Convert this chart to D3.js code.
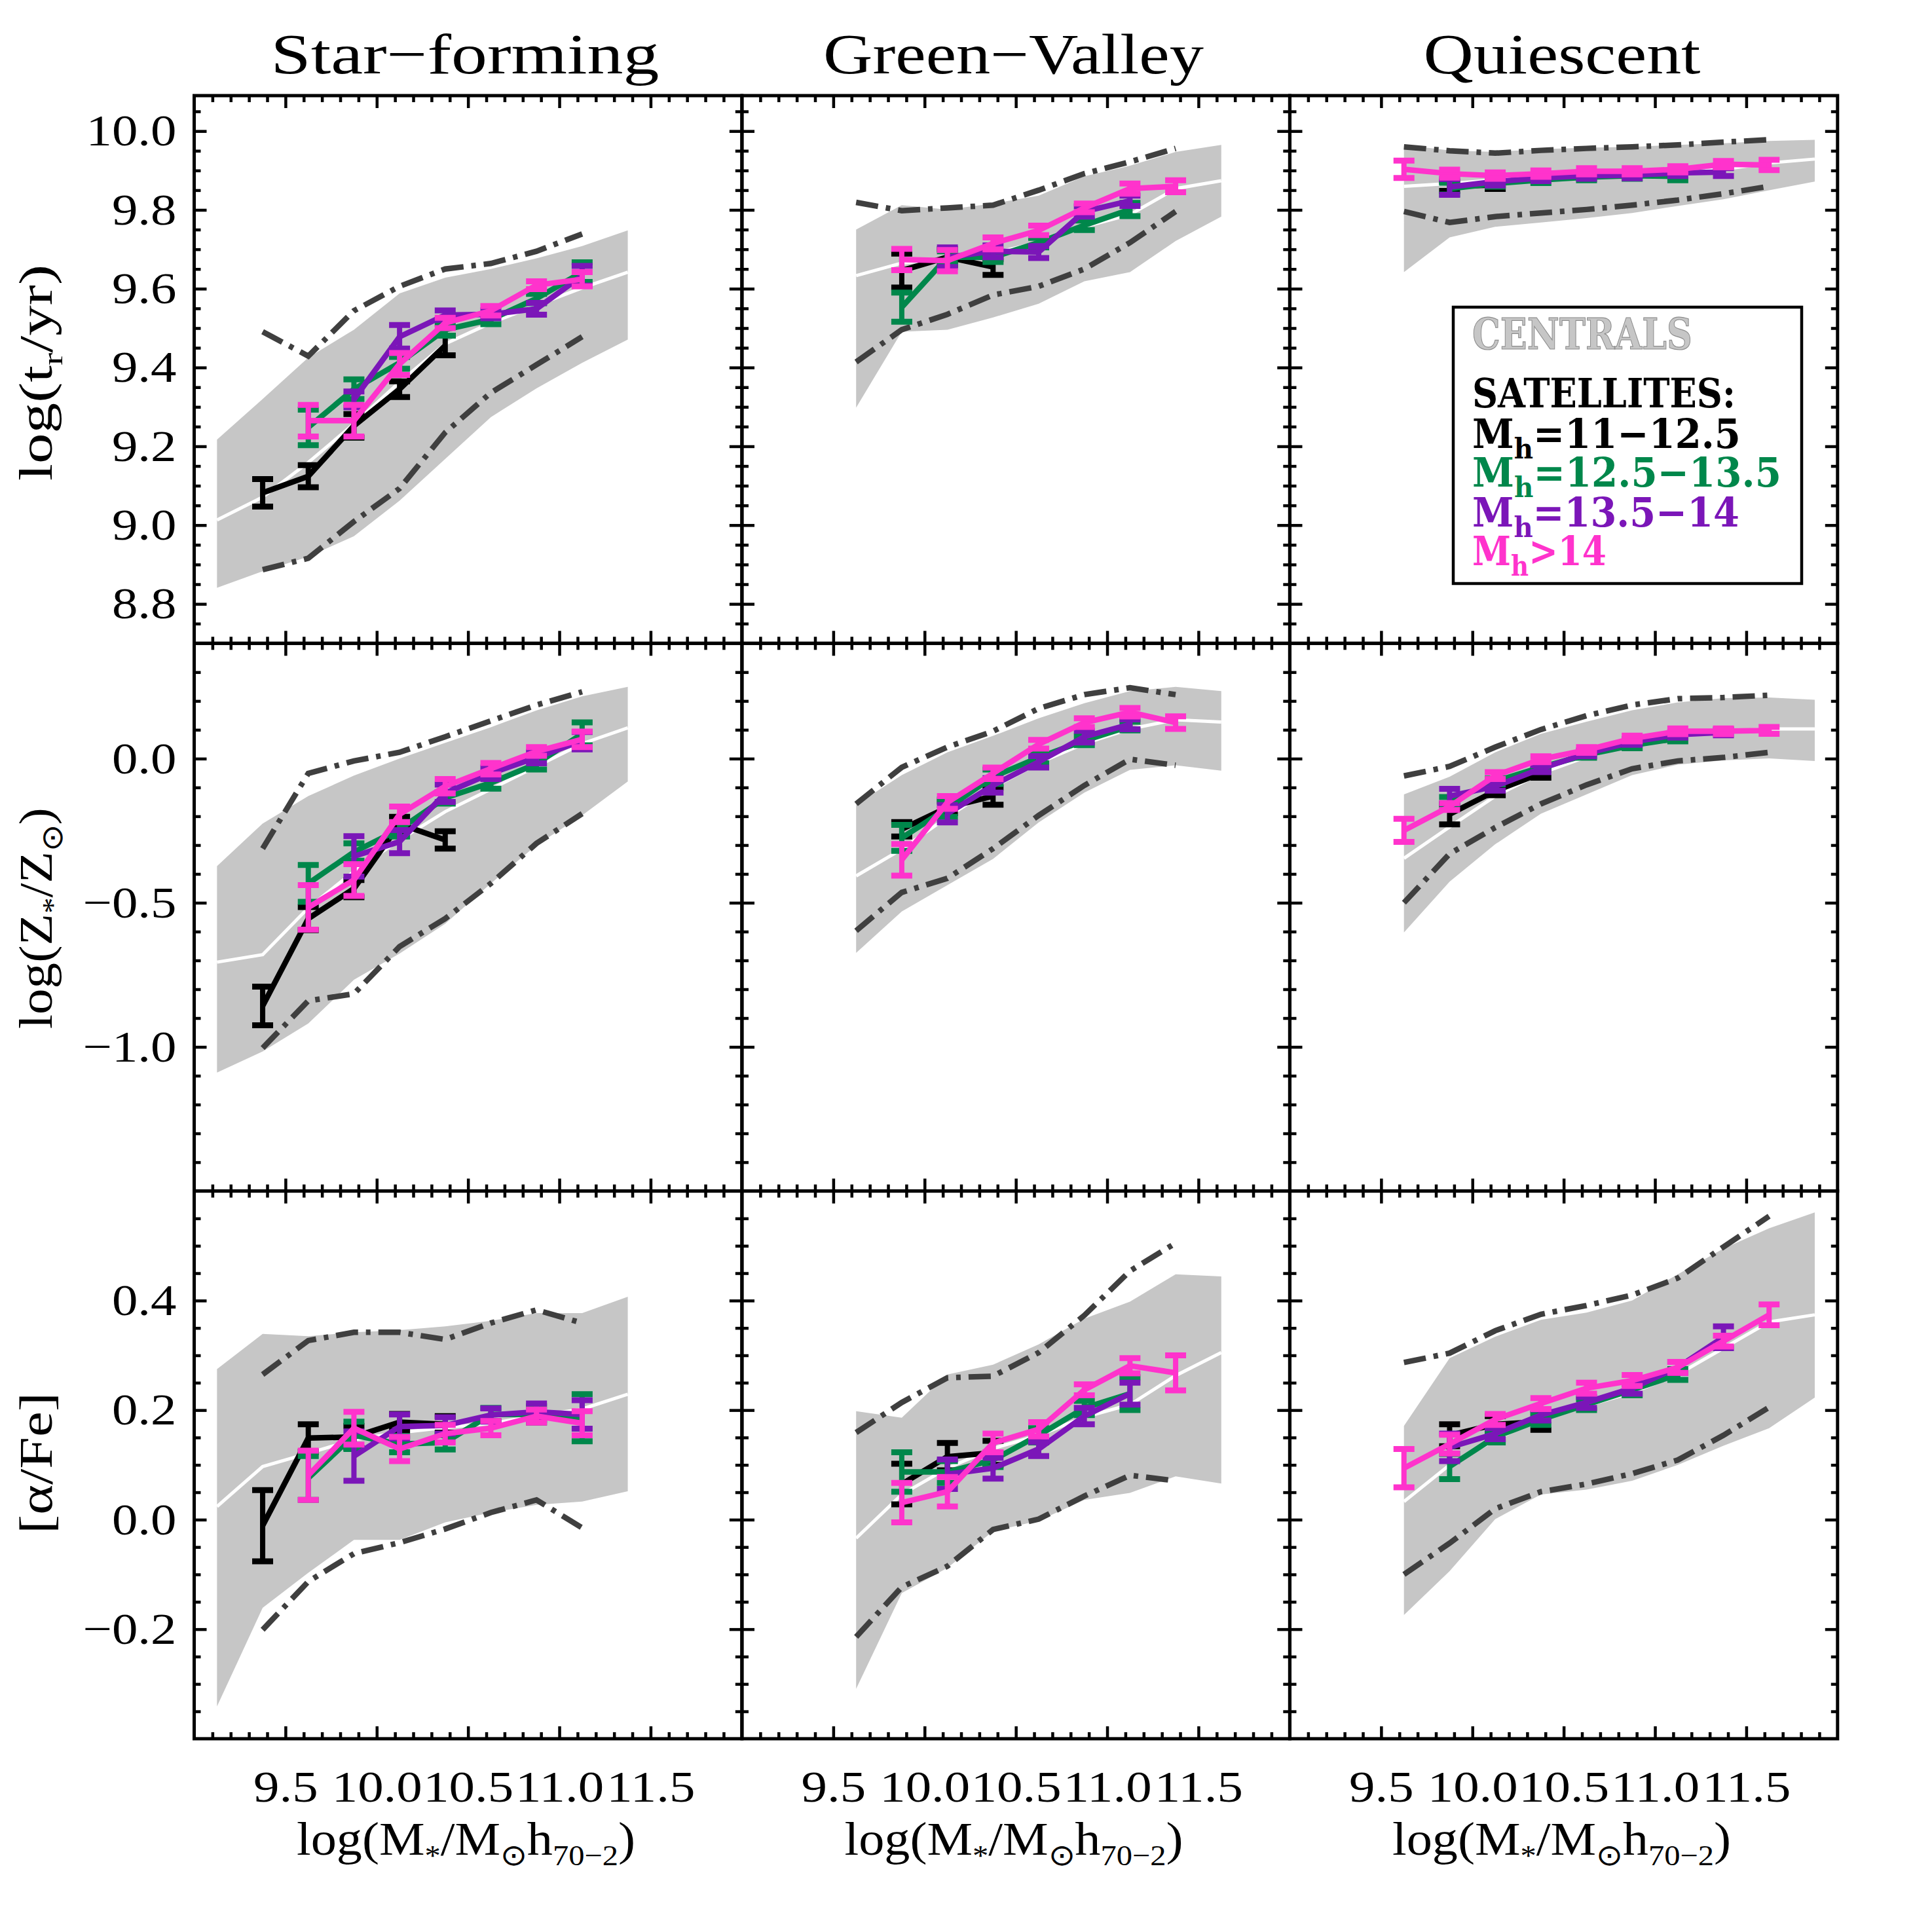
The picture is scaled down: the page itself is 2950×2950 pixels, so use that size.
<!DOCTYPE html>
<html><head><meta charset="utf-8">
<script src="https://cdn.jsdelivr.net/npm/d3@7"></script>
<style>
html,body{margin:0;padding:0;background:#fff;}
svg text{font-family:"Liberation Serif","Times New Roman",serif;}
svg text.leg{font-family:"DejaVu Serif","Liberation Serif",serif;}
</style></head><body>
<svg id="chart" width="2950" height="2950" xmlns="http://www.w3.org/2000/svg"></svg>
<script>
const _ = null;
// ---------- labels / ticks ----------
const COLUMN_TITLES = ["Star−forming", "Green−Valley", "Quiescent"];
const X_TICKS = [9.5, 10.0, 10.5, 11.0, 11.5];
const X_TICK_LABELS = ["9.5", "10.0", "10.5", "11.0", "11.5"];
const Y_TICKS_AGE = [8.8, 9.0, 9.2, 9.4, 9.6, 9.8, 10.0];
const Y_TICK_LABELS_AGE = ["8.8", "9.0", "9.2", "9.4", "9.6", "9.8", "10.0"];
const Y_TICKS_Z = [-1.0, -0.5, 0.0];
const Y_TICK_LABELS_Z = ["−1.0", "−0.5", "0.0"];
const Y_TICKS_AFE = [-0.2, 0.0, 0.2, 0.4];
const Y_TICK_LABELS_AFE = ["−0.2", "0.0", "0.2", "0.4"];
const LEGEND_RANGES = ["=11−12.5", "=12.5−13.5", "=13.5−14", ">14"];

// ---------- stellar-mass bins ----------
const MASS_SF = [9.125, 9.375, 9.625, 9.875, 10.125, 10.375, 10.625, 10.875, 11.125, 11.375];
const MASS_GV = [9.625, 9.875, 10.125, 10.375, 10.625, 10.875, 11.125, 11.375, 11.625];
const MASS_Q  = [9.625, 9.875, 10.125, 10.375, 10.625, 10.875, 11.125, 11.375, 11.625, 11.875];

// ---------- Star-forming : log(t_r/yr) ----------
const SF_AGE_HI  = [9.217, 9.320, 9.425, 9.496, 9.588, 9.628, 9.650, 9.677, 9.708, 9.748];
const SF_AGE_LO  = [8.841, 8.883, 8.920, 8.972, 9.062, 9.168, 9.274, 9.347, 9.412, 9.471];
const SF_AGE_MED = [9.013, 9.071, 9.159, 9.257, 9.363, 9.460, 9.513, 9.558, 9.602, 9.642];
const SF_AGE_DDHI = [_, 9.491, 9.429, 9.544, 9.606, 9.650, 9.664, 9.695, 9.739, _];
const SF_AGE_DDLO = [_, 8.887, 8.916, 9.009, 9.093, 9.235, 9.336, 9.407, 9.478, _];
const SF_AGE_SAT = [
  [_, 9.082, 9.124, 9.252, 9.345, 9.456, _, _, _, _],
  [_, _, 9.248, 9.345, 9.412, 9.496, 9.522, 9.575, 9.642, _],
  [_, _, _, 9.319, 9.478, 9.533, 9.535, 9.549, 9.633, _],
  [_, _, 9.265, 9.265, 9.409, 9.513, 9.544, 9.609, 9.624, _]];
const SF_AGE_ERR = [
  [_, .035, .028, .03, .02, .025, _, _, _, _],
  [_, _, .045, .025, .015, .015, .012, .012, .025, _],
  [_, _, _, .02, .03, .012, .01, .015, .025, _],
  [_, _, .04, .04, .028, .013, .012, .01, .018, _]];

// ---------- Green-Valley : log(t_r/yr) ----------
const GV_AGE_HI  = [9.750, 9.812, 9.801, 9.816, 9.836, 9.885, 9.912, 9.947, 9.965];
const GV_AGE_LO  = [9.298, 9.491, 9.496, 9.527, 9.562, 9.619, 9.642, 9.721, 9.783];
const GV_AGE_MED = [9.633, 9.665, 9.677, 9.690, 9.717, 9.757, 9.788, 9.854, 9.874];
const GV_AGE_DDHI = [9.819, 9.798, 9.805, 9.812, 9.850, 9.892, 9.922, 9.956, _];
const GV_AGE_DDLO = [9.414, 9.496, 9.535, 9.584, 9.606, 9.650, 9.717, 9.796, _];
const GV_AGE_SAT = [
  [_, 9.646, 9.680, 9.655, _, _, _, _, _],
  [_, 9.553, 9.680, 9.680, 9.717, 9.761, 9.801, _, _],
  [_, _, 9.680, 9.695, 9.693, 9.796, 9.823, _, _],
  [_, 9.674, 9.671, 9.715, 9.748, 9.805, 9.854, 9.860, _]];
const GV_AGE_ERR = [
  [_, .043, .02, .02, _, _, _, _, _],
  [_, .037, .015, .012, .012, .012, .017, _, _],
  [_, _, .025, .015, .015, .013, .013, _, _],
  [_, .027, .027, .015, .012, .011, .013, .015, _]];

// ---------- Quiescent : log(t_r/yr) ----------
const Q_AGE_HI  = [9.965, 9.951, 9.947, 9.954, 9.958, 9.960, 9.965, 9.969, 9.975, 9.978];
const Q_AGE_LO  = [9.642, 9.730, 9.757, 9.768, 9.779, 9.792, 9.810, 9.827, 9.850, 9.872];
const Q_AGE_MED = [9.860, 9.867, 9.876, 9.883, 9.887, 9.889, 9.894, 9.903, 9.919, 9.929];
const Q_AGE_DDHI = [9.960, 9.950, 9.944, 9.951, 9.956, 9.960, 9.965, 9.972, 9.978, _];
const Q_AGE_DDLO = [9.796, 9.768, 9.783, 9.792, 9.801, 9.812, 9.825, 9.841, 9.860, _];
const Q_AGE_SAT = [
  [_, 9.860, 9.863, _, _, _, _, _, _, _],
  [_, 9.854, 9.867, 9.876, 9.883, 9.887, 9.885, _, _, _],
  [_, 9.858, 9.872, 9.881, 9.887, 9.888, 9.894, 9.896, _, _],
  [9.903, 9.892, 9.887, 9.892, 9.898, 9.898, 9.903, 9.916, 9.914, _]];
const Q_AGE_ERR = [
  [_, .012, .01, _, _, _, _, _, _, _],
  [_, .015, .008, .008, .008, .008, .01, _, _, _],
  [_, .02, .01, .008, .008, .008, .008, .01, _, _],
  [.022, .01, .008, .008, .008, .008, .008, .008, .013, _]];

// ---------- Star-forming : log(Z/Zsun) ----------
const SF_Z_HI  = [-0.373, -0.225, -0.130, -0.059, 0.000, 0.055, 0.109, 0.167, 0.216, 0.249];
const SF_Z_LO  = [-1.089, -1.016, -0.919, -0.767, -0.676, -0.573, -0.433, -0.300, -0.197, -0.079];
const SF_Z_MED = [-0.706, -0.680, -0.518, -0.391, -0.282, -0.184, -0.106, -0.027, 0.052, 0.107];
const SF_Z_DDHI = [_, -0.312, -0.051, -0.008, 0.022, 0.076, 0.131, 0.186, 0.232, _];
const SF_Z_DDLO = [_, -1.004, -0.840, -0.816, -0.652, -0.555, -0.433, -0.294, -0.191, _];
const SF_Z_SAT = [
  [_, -0.858, -0.555, -0.451, -0.227, -0.282, _, _, _, _],
  [_, _, -0.433, -0.324, -0.245, -0.136, -0.084, -0.018, 0.086, _],
  [_, _, _, -0.339, -0.288, -0.120, -0.051, 0.004, 0.062, _],
  [_, _, -0.516, -0.421, -0.193, -0.096, -0.035, 0.025, 0.067, _]];
const SF_Z_ERR = [
  [_, .067, .04, .03, .025, .03, _, _, _, _],
  [_, _, .064, .03, .025, .02, .02, .02, .04, _],
  [_, _, _, .07, .04, .03, .02, .02, .03, _],
  [_, _, .077, .055, .027, .025, .02, .015, .027, _]];

// ---------- Green-Valley : log(Z/Zsun) ----------
const GV_Z_HI  = [-0.160, -0.057, 0.022, 0.079, 0.140, 0.192, 0.234, 0.249, 0.234];
const GV_Z_LO  = [-0.674, -0.530, -0.439, -0.348, -0.221, -0.118, -0.039, -0.023, -0.042];
const GV_Z_MED = [-0.407, -0.314, -0.203, -0.100, -0.015, 0.052, 0.103, 0.135, 0.127];
const GV_Z_DDHI = [-0.157, -0.030, 0.040, 0.095, 0.174, 0.222, 0.246, 0.222, _];
const GV_Z_DDLO = [-0.597, -0.464, -0.415, -0.312, -0.197, -0.093, -0.002, -0.023, _];
const GV_Z_SAT = [
  [_, -0.245, -0.169, -0.130, _, _, _, _, _],
  [_, -0.275, -0.172, -0.063, 0.004, 0.062, 0.113, _, _],
  [_, _, -0.191, -0.093, -0.011, 0.076, 0.119, _, _],
  [_, -0.351, -0.152, -0.051, 0.050, 0.125, 0.161, 0.125, _]];
const GV_Z_ERR = [
  [_, .025, .02, .03, _, _, _, _, _],
  [_, .045, .03, .025, .02, .015, .015, _, _],
  [_, _, .03, .025, .02, .02, .017, _, _],
  [_, .055, .022, .02, .015, .015, .015, .022, _]];

// ---------- Quiescent : log(Z/Zsun) ----------
const Q_Z_HI  = [-0.124, -0.063, 0.022, 0.086, 0.128, 0.168, 0.195, 0.210, 0.212, 0.204];
const Q_Z_LO  = [-0.603, -0.427, -0.297, -0.191, -0.124, -0.057, -0.021, -0.006, 0.001, -0.008];
const Q_Z_MED = [-0.346, -0.237, -0.130, -0.051, 0.006, 0.050, 0.079, 0.095, 0.103, 0.103];
const Q_Z_DDHI = [-0.060, -0.027, 0.040, 0.101, 0.149, 0.186, 0.208, 0.212, 0.220, _];
const Q_Z_DDLO = [-0.500, -0.330, -0.239, -0.157, -0.091, -0.035, -0.008, 0.004, 0.022, _];
const Q_Z_SAT = [
  [_, -0.193, -0.112, -0.051, _, _, _, _, _, _],
  [_, -0.148, -0.079, -0.030, 0.013, 0.046, 0.070, _, _, _],
  [_, -0.130, -0.096, -0.035, 0.018, 0.058, 0.083, 0.091, _, _],
  [-0.249, -0.166, -0.059, -0.002, 0.030, 0.070, 0.095, 0.095, 0.098, _]];
const Q_Z_ERR = [
  [_, .035, .015, .015, _, _, _, _, _, _],
  [_, .015, .01, .01, .01, .01, .01, _, _, _],
  [_, .025, .015, .012, .01, .01, .01, .01, _, _],
  [.04, .012, .012, .01, .01, .01, .01, .01, .012, _]];

// ---------- Star-forming : [alpha/Fe] ----------
const SF_AFE_HI  = [0.275, 0.339, 0.335, 0.342, 0.346, 0.353, 0.363, 0.377, 0.377, 0.407];
const SF_AFE_LO  = [-0.341, -0.161, -0.097, -0.037, -0.037, -0.005, 0.013, 0.027, 0.033, 0.052];
const SF_AFE_MED = [0.024, 0.097, 0.121, 0.146, 0.159, 0.168, 0.176, 0.189, 0.202, 0.229];
const SF_AFE_DDHI = [_, 0.265, 0.327, 0.342, 0.342, 0.329, 0.359, 0.383, 0.359, _];
const SF_AFE_DDLO = [_, -0.201, -0.113, -0.062, -0.042, -0.017, 0.013, 0.036, -0.015, _];
const SF_AFE_SAT = [
  [_, -0.011, 0.149, 0.151, 0.178, 0.174, _, _, _, _],
  [_, _, 0.076, 0.154, 0.138, 0.141, 0.192, 0.192, 0.186, _],
  [_, _, _, 0.116, 0.170, 0.172, 0.191, 0.197, 0.192, _],
  [_, _, 0.081, 0.167, 0.129, 0.157, 0.167, 0.189, 0.176, _]];
const SF_AFE_ERR = [
  [_, .065, .025, .02, .015, .015, _, _, _, _],
  [_, _, .04, .025, .015, .013, .012, .015, .043, _],
  [_, _, _, .045, .022, .015, .012, .015, .026, _],
  [_, _, .045, .03, .022, .016, .013, .012, .022, _]];

// ---------- Green-Valley : [alpha/Fe] ----------
const GV_AFE_HI  = [0.198, 0.186, 0.265, 0.283, 0.320, 0.367, 0.398, 0.448, 0.444];
const GV_AFE_LO  = [-0.309, -0.134, -0.088, -0.021, -0.002, 0.036, 0.049, 0.079, 0.066];
const GV_AFE_MED = [-0.034, 0.046, 0.094, 0.130, 0.154, 0.187, 0.210, 0.263, 0.305];
const GV_AFE_DDHI = [0.159, 0.214, 0.259, 0.262, 0.305, 0.373, 0.454, 0.505, _];
const GV_AFE_DDLO = [-0.214, -0.123, -0.085, -0.018, 0.001, 0.043, 0.081, 0.071, _];
const GV_AFE_SAT = [
  [_, 0.065, 0.115, 0.122, _, _, _, _, _],
  [_, 0.087, 0.087, 0.109, 0.154, 0.204, 0.230, _, _],
  [_, _, 0.083, 0.094, 0.129, 0.189, 0.230, _, _],
  [_, 0.031, 0.051, 0.140, 0.165, 0.237, 0.281, 0.268, _]];
const GV_AFE_ERR = [
  [_, .037, .025, .022, _, _, _, _, _],
  [_, .036, .02, .013, .013, .013, .03, _, _],
  [_, _, .027, .019, .013, .015, .02, _, _],
  [_, .036, .027, .017, .013, .01, .014, .032, _]];

// ---------- Quiescent : [alpha/Fe] ----------
const Q_AFE_HI  = [0.171, 0.295, 0.334, 0.365, 0.378, 0.400, 0.448, 0.495, 0.532, 0.561];
const Q_AFE_LO  = [-0.174, -0.094, 0.001, 0.046, 0.055, 0.071, 0.100, 0.135, 0.167, 0.223];
const Q_AFE_MED = [0.033, 0.100, 0.146, 0.186, 0.208, 0.232, 0.265, 0.313, 0.361, 0.374];
const Q_AFE_DDHI = [0.287, 0.304, 0.345, 0.375, 0.391, 0.410, 0.441, 0.498, 0.554, _];
const Q_AFE_DDLO = [-0.100, -0.043, 0.020, 0.051, 0.065, 0.084, 0.109, 0.154, 0.205, _];
const Q_AFE_SAT = [
  [_, 0.154, 0.174, 0.179, _, _, _, _, _, _],
  [_, 0.097, 0.151, 0.183, 0.210, 0.237, 0.265, _, _, _],
  [_, 0.132, 0.157, 0.191, 0.214, 0.240, 0.278, 0.333, _, _],
  [0.094, 0.138, 0.183, 0.212, 0.240, 0.254, 0.278, 0.326, 0.374, _]];
const Q_AFE_ERR = [
  [_, .02, .015, .015, _, _, _, _, _, _],
  [_, .023, .01, .01, .01, .01, .01, _, _, _],
  [_, .025, .01, .01, .01, .01, .01, .02, _, _],
  [.035, .017, .01, .01, .01, .01, .01, .01, .019, _]];

// ================= drawing =================
const svg = d3.select("#chart");
svg.append("rect").attr("width", 2950).attr("height", 2950).attr("fill", "#fff");

const COL_X = [296.5, 1133, 1969.5], ROW_Y = [146, 982.3, 1818.6], PW = 836.3, PH = 836.3;
const COLORS = ["#000000", "#00874b", "#7b16b8", "#ff33cc"];
const BAND_COLOR = "#c6c6c6", DD_COLOR = "#3f3f3f";
const Y_DOMAINS = [[8.7, 10.09], [-1.5, 0.4], [-0.4, 0.6]];
const Y_MAJOR = [Y_TICKS_AGE, Y_TICKS_Z, Y_TICKS_AFE];
const Y_LABELS = [Y_TICK_LABELS_AGE, Y_TICK_LABELS_Z, Y_TICK_LABELS_AFE];
const Y_MINOR_STEP = [0.05, 0.1, 0.05];

const PANELS = [
  [MASS_SF, SF_AGE_HI, SF_AGE_LO, SF_AGE_MED, SF_AGE_DDHI, SF_AGE_DDLO, SF_AGE_SAT, SF_AGE_ERR],
  [MASS_GV, GV_AGE_HI, GV_AGE_LO, GV_AGE_MED, GV_AGE_DDHI, GV_AGE_DDLO, GV_AGE_SAT, GV_AGE_ERR],
  [MASS_Q, Q_AGE_HI, Q_AGE_LO, Q_AGE_MED, Q_AGE_DDHI, Q_AGE_DDLO, Q_AGE_SAT, Q_AGE_ERR],
  [MASS_SF, SF_Z_HI, SF_Z_LO, SF_Z_MED, SF_Z_DDHI, SF_Z_DDLO, SF_Z_SAT, SF_Z_ERR],
  [MASS_GV, GV_Z_HI, GV_Z_LO, GV_Z_MED, GV_Z_DDHI, GV_Z_DDLO, GV_Z_SAT, GV_Z_ERR],
  [MASS_Q, Q_Z_HI, Q_Z_LO, Q_Z_MED, Q_Z_DDHI, Q_Z_DDLO, Q_Z_SAT, Q_Z_ERR],
  [MASS_SF, SF_AFE_HI, SF_AFE_LO, SF_AFE_MED, SF_AFE_DDHI, SF_AFE_DDLO, SF_AFE_SAT, SF_AFE_ERR],
  [MASS_GV, GV_AFE_HI, GV_AFE_LO, GV_AFE_MED, GV_AFE_DDHI, GV_AFE_DDLO, GV_AFE_SAT, GV_AFE_ERR],
  [MASS_Q, Q_AFE_HI, Q_AFE_LO, Q_AFE_MED, Q_AFE_DDHI, Q_AFE_DDLO, Q_AFE_SAT, Q_AFE_ERR]
];

const x = d3.scaleLinear().domain([9.0, 12.0]).range([0, PW]);
const xMinor = d3.range(91, 120).map(v => v / 10).filter(v => !X_TICKS.some(t => Math.abs(t - v) < 1e-6));
const TICK_W = 4.5, MAJ = 19, MIN = 10;

function rich(parent, parts, fs, anchor, subScale, subDy) {
  const t = parent.append("text").attr("font-size", fs).attr("text-anchor", anchor);
  let inSub = false;
  parts.forEach(([s, sub]) => {
    const ts = t.append("tspan").text(s);
    if (sub) ts.attr("font-size", fs * subScale);
    if (sub && !inSub) ts.attr("dy", fs * subDy);
    if (!sub && inSub) ts.attr("dy", -fs * subDy);
    inSub = sub;
  });
  return t;
}
function fitWidth(t, target) {
  const w = t.node().getComputedTextLength();
  t.attr("transform", `scale(${target / w},1)`);
}

PANELS.forEach((p, k) => {
  const r = Math.floor(k / 3), c = k % 3;
  const [mass, hi, lo, med, ddhi, ddlo, sat, err] = p;
  const y = d3.scaleLinear().domain(Y_DOMAINS[r]).range([PH, 0]);
  const g = svg.append("g").attr("transform", `translate(${COL_X[c]},${ROW_Y[r]})`);
  const idx = d3.range(mass.length);

  // centrals band
  g.append("path").datum(idx)
    .attr("d", d3.area().defined(i => hi[i] != null && lo[i] != null)
      .x(i => x(mass[i])).y0(i => y(lo[i])).y1(i => y(hi[i])))
    .attr("fill", BAND_COLOR).attr("stroke", "none");
  // centrals median
  g.append("path").datum(idx)
    .attr("d", d3.line().defined(i => med[i] != null).x(i => x(mass[i])).y(i => y(med[i])))
    .attr("fill", "none").attr("stroke", "#fff").attr("stroke-width", 5);
  // dash-dot envelopes
  [ddhi, ddlo].forEach(arr => {
    g.append("path").datum(idx)
      .attr("d", d3.line().defined(i => arr[i] != null).x(i => x(mass[i])).y(i => y(arr[i])))
      .attr("fill", "none").attr("stroke", DD_COLOR).attr("stroke-width", 8.5)
      .attr("stroke-dasharray", "34,12,7,12");
  });
  // satellites
  sat.forEach((vals, s) => {
    const e = err[s];
    const pts = idx.filter(i => vals[i] != null);
    g.append("path").datum(pts)
      .attr("d", d3.line().x(i => x(mass[i])).y(i => y(vals[i])))
      .attr("fill", "none").attr("stroke", COLORS[s]).attr("stroke-width", 8.5)
      .attr("stroke-linejoin", "round");
    const eb = g.append("g").attr("stroke", COLORS[s]);
    pts.forEach(i => {
      const xx = x(mass[i]), y1 = y(vals[i] + e[i]), y0 = y(vals[i] - e[i]);
      eb.append("line").attr("x1", xx).attr("x2", xx).attr("y1", y1).attr("y2", y0).attr("stroke-width", 8);
      [y1, y0].forEach(yy => eb.append("line").attr("x1", xx - 16).attr("x2", xx + 16)
        .attr("y1", yy).attr("y2", yy).attr("stroke-width", 9));
    });
  });

  // ticks (inward, all four sides)
  const [y0d, y1d] = Y_DOMAINS[r];
  const st = Y_MINOR_STEP[r];
  const yMinor = d3.range(Math.ceil(y0d / st + 1e-6), Math.floor(y1d / st - 1e-6) + 1).map(v => +(v * st).toFixed(3))
    .filter(v => !Y_MAJOR[r].some(t => Math.abs(t - v) < 1e-6) && v > y0d + 1e-6 && v < y1d - 1e-6);
  const tickAxis = (gen, tr, vals, size) => {
    const a = g.append("g").attr("transform", tr)
      .call(gen.tickValues(vals).tickSize(size).tickSizeOuter(0).tickFormat(""));
    a.select(".domain").remove();
    a.selectAll("line").attr("stroke", "#000").attr("stroke-width", TICK_W);
  };
  tickAxis(d3.axisBottom(x), `translate(0,${PH})`, X_TICKS, -MAJ);
  tickAxis(d3.axisBottom(x), `translate(0,${PH})`, xMinor, -MIN);
  tickAxis(d3.axisTop(x), `translate(0,0)`, X_TICKS, -MAJ);
  tickAxis(d3.axisTop(x), `translate(0,0)`, xMinor, -MIN);
  tickAxis(d3.axisLeft(y), `translate(0,0)`, Y_MAJOR[r], -MAJ);
  tickAxis(d3.axisLeft(y), `translate(0,0)`, yMinor, -MIN);
  tickAxis(d3.axisRight(y), `translate(${PW},0)`, Y_MAJOR[r], -MAJ);
  tickAxis(d3.axisRight(y), `translate(${PW},0)`, yMinor, -MIN);

  g.append("rect").attr("width", PW).attr("height", PH)
    .attr("fill", "none").attr("stroke", "#000").attr("stroke-width", 5);

  // tick labels
  const SX = 1.16;
  if (c === 0) {
    const la = g.append("g").call(d3.axisLeft(y).tickValues(Y_MAJOR[r]).tickSize(0).tickPadding(0)
      .tickFormat((d, i) => Y_LABELS[r][i]));
    la.select(".domain").remove();
    la.selectAll("text").attr("font-size", 68).attr("fill", "#000")
      .attr("x", -27 / SX).attr("transform", `scale(${SX},1)`);
  }
  if (r === 2) {
    const lb = g.append("g").attr("transform", `translate(0,${PH})`)
      .call(d3.axisBottom(x).tickValues(X_TICKS).tickSize(0).tickPadding(0)
        .tickFormat((d, i) => X_TICK_LABELS[i]));
    lb.select(".domain").remove();
    lb.selectAll("text").attr("font-size", 68).attr("fill", "#000")
      .attr("y", 96).attr("dy", 0).attr("transform", `scale(${SX},1)`);
    // x-axis title
    const xt = svg.append("g").attr("transform", `translate(${COL_X[c] + 415},2832)`);
    const t = rich(xt, [["log(M", false], ["*", true], ["/M", false], ["⊙", true], ["h", false], ["70−2", true], [")", false]],
      72, "middle", 0.62, 0.22);
    fitWidth(t, 518);
  }
  if (r === 0) {
    const tt = svg.append("g").attr("transform", `translate(${[710, 1547.5, 2385][c]},112)`);
    const t = tt.append("text").attr("font-size", 86).attr("text-anchor", "middle").text(COLUMN_TITLES[c]);
    fitWidth(t, [593, 581, 423][c]);
  }
});

// y-axis titles
const Y_TITLE_PARTS = [
  [["log(t", false], ["r", true], ["/yr)", false]],
  [["log(Z", false], ["*", true], ["/Z", false], ["⊙", true], [")", false]],
  [["[α/Fe]", false]]
];
[569, 1402, 2234].forEach((cy, r) => {
  const g = svg.append("g").attr("transform", `translate(79,${cy}) rotate(-90)`);
  const t = rich(g, Y_TITLE_PARTS[r], 72, "middle", 0.62, 0.22);
  fitWidth(t, [330, 339, 216][r]);
});

// legend
const lg = svg.append("g");
lg.append("rect").attr("x", 2219).attr("y", 469).attr("width", 532).attr("height", 422)
  .attr("fill", "#fff").attr("stroke", "#000").attr("stroke-width", 4.5);
const cen = lg.append("g").attr("transform", "translate(2248,533)")
  .append("text").attr("class", "leg").attr("font-size", 66).attr("font-weight", "bold")
  .attr("fill", "#c6c6c6").attr("stroke", "#8c8c8c").attr("stroke-width", 1.2).text("CENTRALS");
fitWidth(cen, 336);
const satT = lg.append("g").attr("transform", "translate(2248,622)")
  .append("text").attr("class", "leg").attr("font-size", 62).attr("font-weight", "bold").attr("fill", "#000").text("SATELLITES:");
fitWidth(satT, 402);
const LEG_BASE = [683.5, 743, 803.5, 863];
const LEG_W = [410, 472, 408, 205];
LEGEND_RANGES.forEach((s, i) => {
  const g = lg.append("g").attr("transform", `translate(2248,${LEG_BASE[i]})`);
  const t = rich(g, [["M", false], ["h", true], [s, false]], 62, "start", 0.7, 0.26)
    .attr("class", "leg").attr("font-weight", "bold").attr("fill", COLORS[i]);
  fitWidth(t, LEG_W[i]);
});
</script></body></html>
